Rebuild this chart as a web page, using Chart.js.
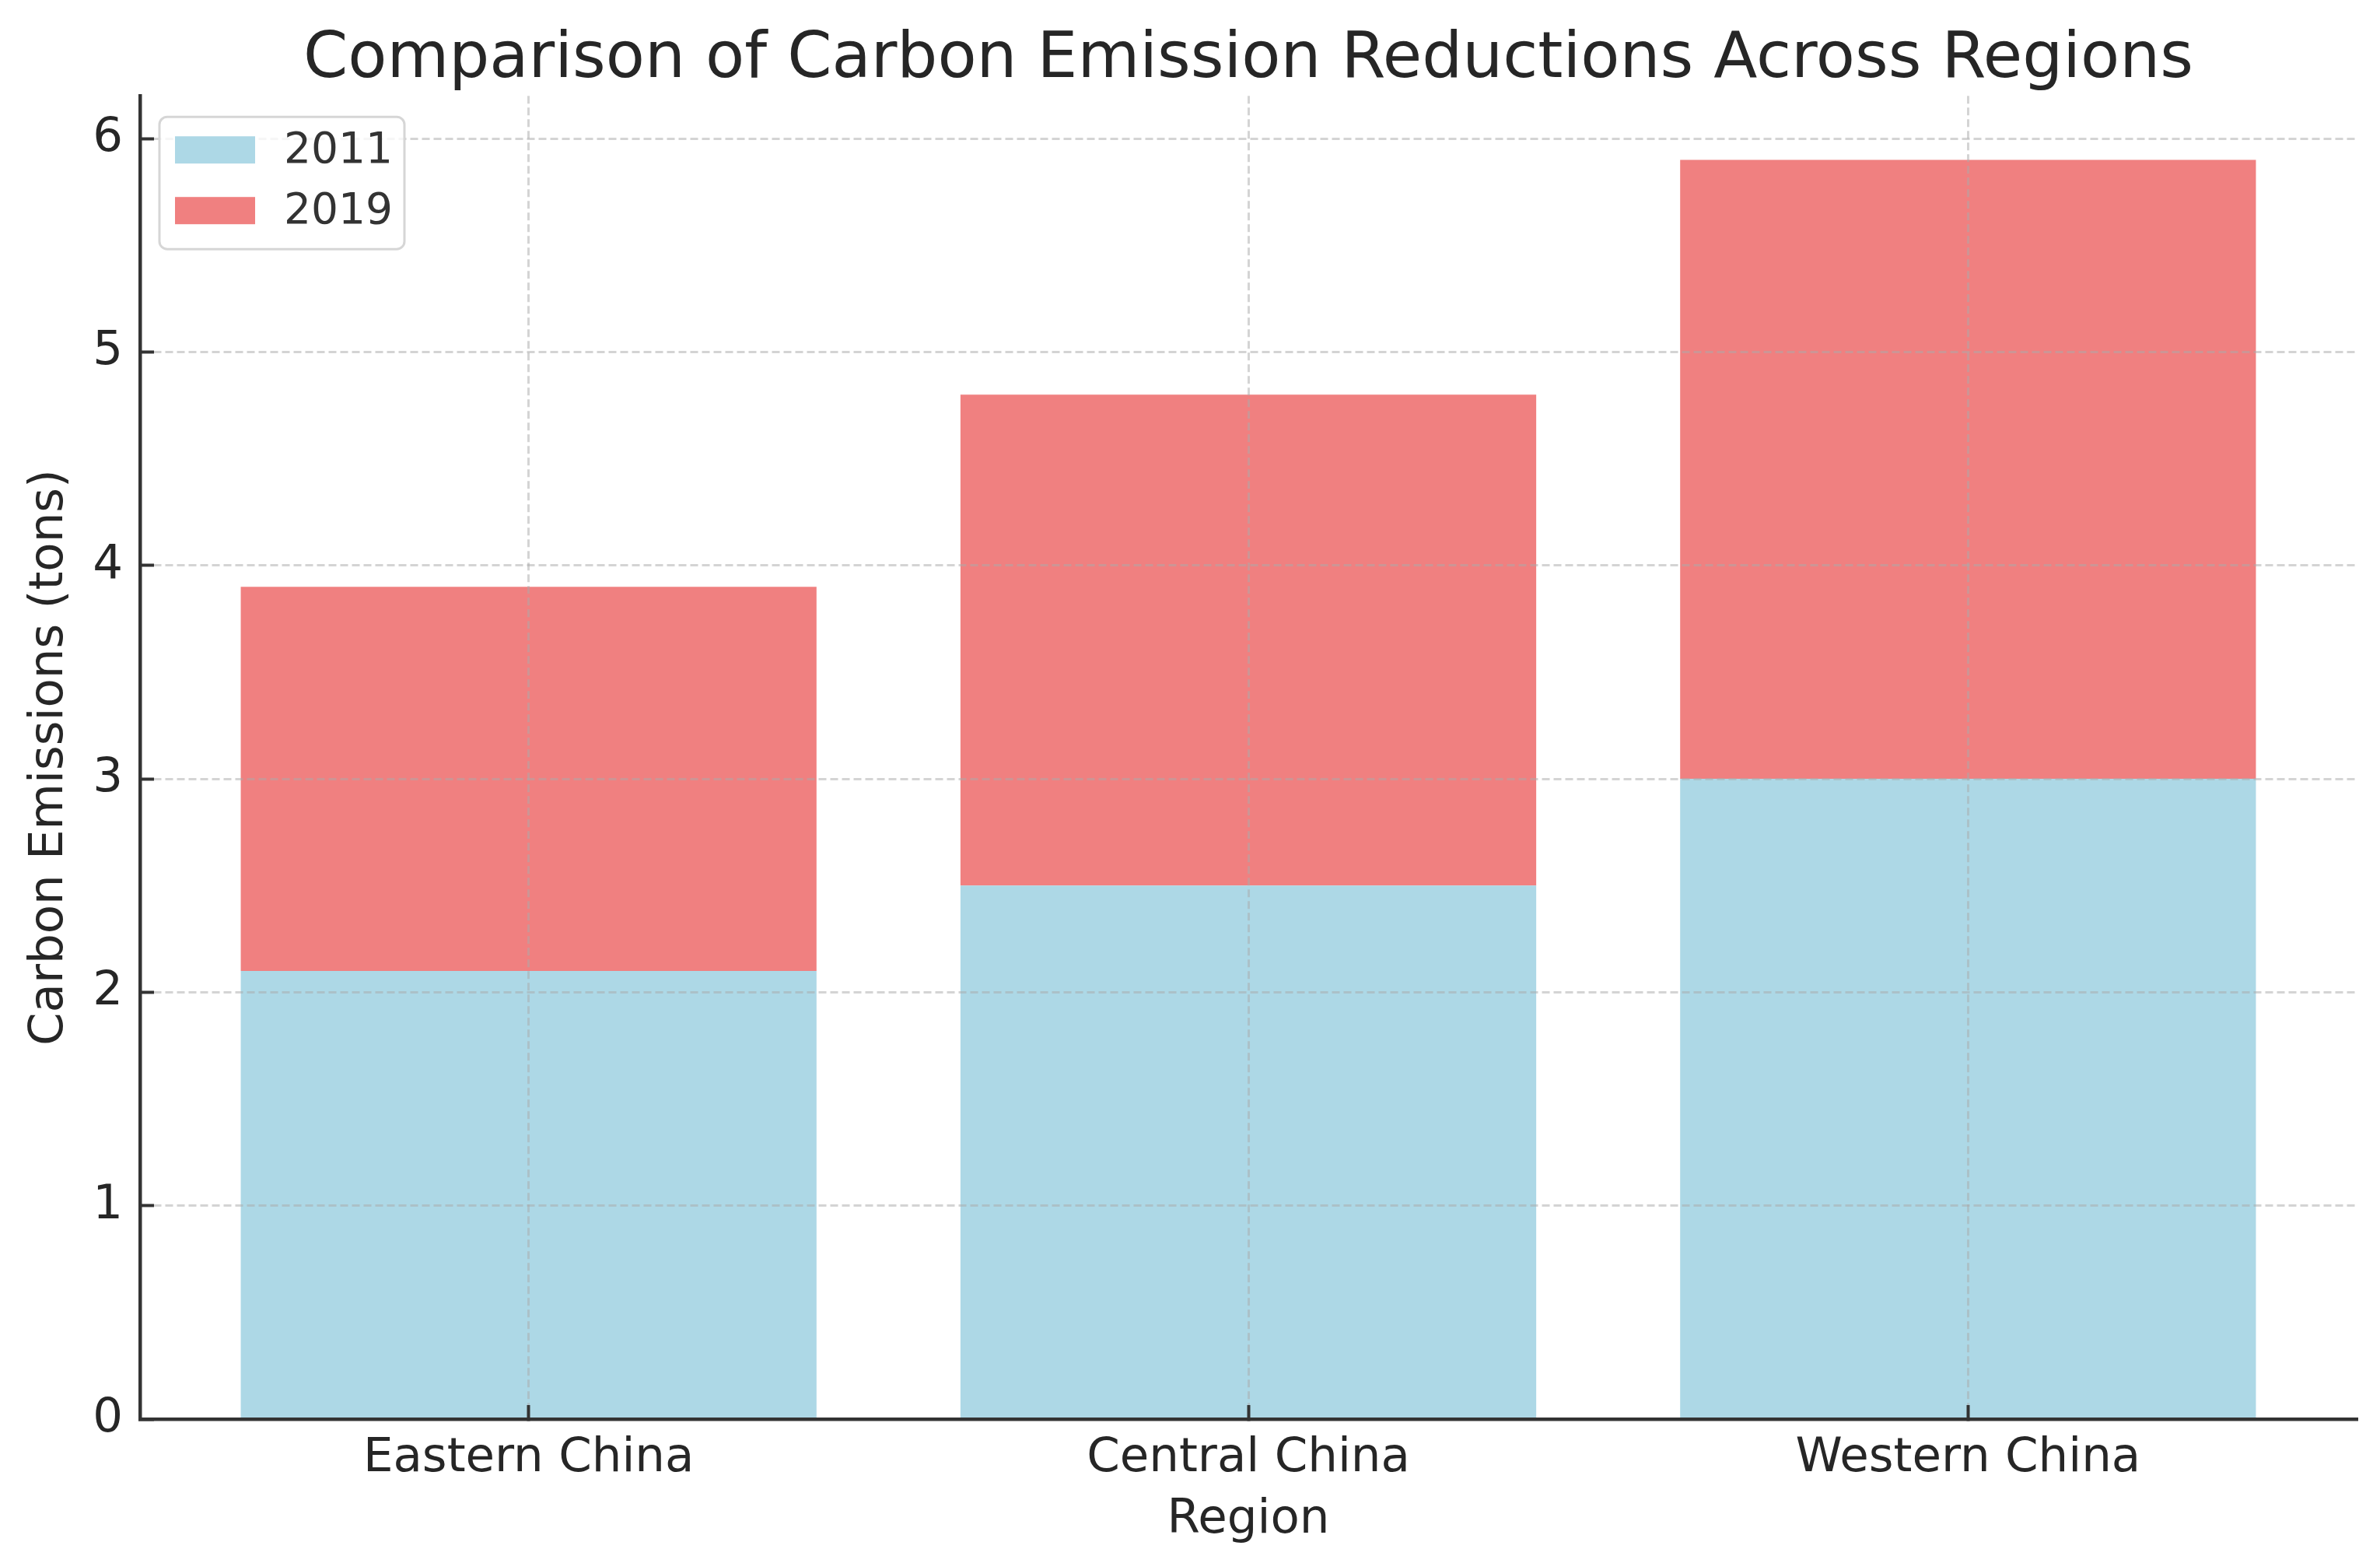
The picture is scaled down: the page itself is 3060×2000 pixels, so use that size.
<!DOCTYPE html>
<html>
<head>
<meta charset="utf-8">
<script src="https://cdn.jsdelivr.net/npm/chart.js@4/dist/chart.umd.min.js"></script>
<style>
  html, body { margin: 0; padding: 0; background: #fff; }
  canvas { display: block; }
</style>
</head>
<body>
<canvas id="chart" width="3060" height="2000"></canvas>
<script>
// data
var regions = ['Eastern China', 'Central China', 'Western China'];
var years = ['2011', '2019'];
var emissions2011 = [2.1, 2.5, 3.0];
var emissions2019 = [1.8, 2.3, 2.9];   // stacked on top of 2011
var yTicks = [0, 1, 2, 3, 4, 5, 6];
var xTicks = [0, 1, 2];

var textColor = '#262626';
Chart.defaults.font.family = '"DejaVu Sans", sans-serif';
Chart.defaults.color = textColor;

// boxed legend in the top-left corner of the plot, like matplotlib's
var boxLegend = {
    id: 'boxLegend',
    afterDraw: function (chart) {
        var ctx = chart.ctx, area = chart.chartArea;
        var x = area.left + 25, y = area.top + 27, w = 315, h = 170;
        ctx.save();
        ctx.beginPath();
        ctx.roundRect(x, y, w, h, 10);
        ctx.fillStyle = 'rgba(255,255,255,0.8)';
        ctx.fill();
        ctx.lineWidth = 3;
        ctx.strokeStyle = '#d6d6d6';
        ctx.stroke();
        ctx.font = '55px "DejaVu Sans"';
        ctx.textBaseline = 'middle';
        chart.data.datasets.forEach(function (ds, i) {
            var cy = y + 42 + i * 78;
            ctx.fillStyle = ds.backgroundColor;
            ctx.fillRect(x + 20, cy - 17, 103, 35);
            ctx.fillStyle = '#333';
            ctx.fillText(ds.label, x + 160, cy + 3);
        });
        ctx.restore();
    }
};

var ctx = document.getElementById('chart').getContext('2d');
var chart = new Chart(ctx, {
    type: 'bar',
    data: {
        datasets: [{
            label: years[0],
            data: regions.map(function (r, i) { return { x: i, y: emissions2011[i] }; }),
            backgroundColor: '#ADD8E6',
            borderWidth: 0
        }, {
            label: years[1],
            data: regions.map(function (r, i) { return { x: i, y: emissions2019[i] }; }),
            backgroundColor: '#F08080',
            borderWidth: 0
        }]
    },
    options: {
        responsive: false,
        animation: false,
        devicePixelRatio: 1,
        categoryPercentage: 0.8,
        barPercentage: 1,
        layout: { padding: { left: 0, right: 30, top: 0, bottom: 0 } },
        plugins: {
            legend: { display: false },
            tooltip: { enabled: false },
            title: {
                display: true,
                text: 'Comparison of Carbon Emission Reductions Across Regions',
                fullSize: false,
                color: textColor,
                font: { size: 82, weight: 'normal', lineHeight: 1.1 },
                padding: { top: 33, bottom: 0 }
            }
        },
        scales: {
            x: {
                type: 'linear',
                stacked: true,
                offset: false,
                min: -0.54,
                max: 2.54,
                z: 1,
                afterBuildTicks: function (s) { s.ticks = xTicks.map(function (v) { return { value: v }; }); },
                afterFit: function (s) { s.height = 176; },
                ticks: {
                    font: { size: 61 },
                    color: textColor,
                    padding: 33,
                    callback: function (v) { return regions[v]; }
                },
                grid: {
                    z: 1,
                    offset: false,
                    color: 'rgba(170,170,170,0.5)',
                    lineWidth: 3,
                    tickLength: -18,
                    tickWidth: 4,
                    tickColor: '#333'
                },
                border: { z: 2, color: '#333', width: 4.5, dash: [10, 5] },
                title: {
                    display: true,
                    text: 'Region',
                    color: textColor,
                    font: { size: 61 },
                    padding: { top: 0, bottom: 9 }
                }
            },
            y: {
                stacked: true,
                min: 0,
                max: 6.2,
                z: 1,
                afterBuildTicks: function (s) { s.ticks = yTicks.map(function (v) { return { value: v }; }); },
                afterFit: function (s) { s.width = 180; },
                ticks: {
                    font: { size: 61 },
                    color: textColor,
                    padding: 40
                },
                grid: {
                    z: 1,
                    color: 'rgba(170,170,170,0.5)',
                    lineWidth: 3,
                    tickLength: -18,
                    tickWidth: 4,
                    tickColor: '#333'
                },
                border: { z: 2, color: '#333', width: 4.5, dash: [10, 5] },
                title: {
                    display: true,
                    text: 'Carbon Emissions (tons)',
                    color: textColor,
                    font: { size: 61 },
                    padding: { top: 28, bottom: 0 }
                }
            }
        }
    },
    plugins: [boxLegend]
});
</script>
</body>
</html>
